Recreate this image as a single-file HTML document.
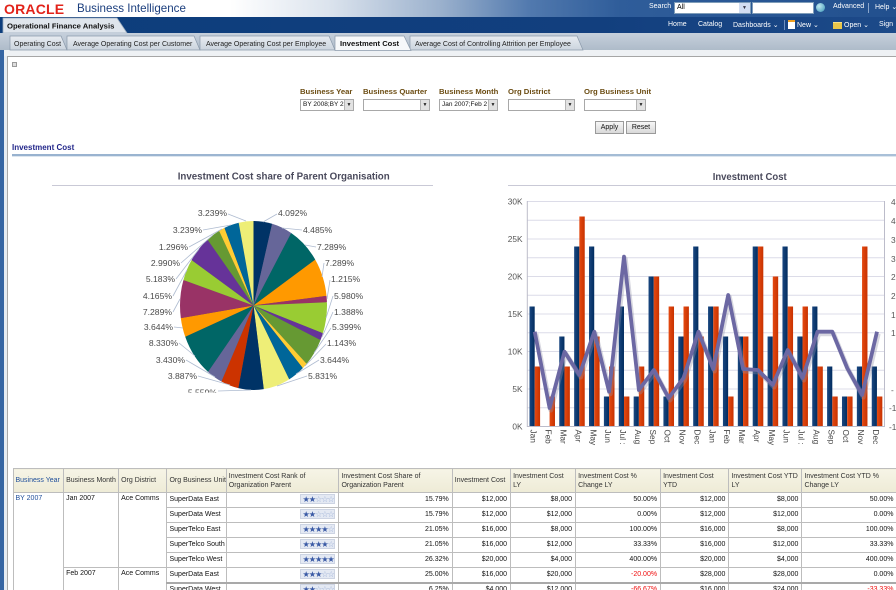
<!DOCTYPE html>
<html><head><meta charset="utf-8">
<style>
*{margin:0;padding:0;box-sizing:border-box}
html,body{width:896px;height:590px;overflow:hidden;background:#fff;font-family:"Liberation Sans",Arial,sans-serif}
#root{position:relative;width:896px;height:590px;overflow:hidden;background:#fff}
.a{position:absolute}
.w{color:#fff;font-size:7px;white-space:nowrap}
.fl{position:absolute;top:87px;font-size:7.7px;font-weight:bold;color:#6b4c12;white-space:nowrap}
.sel{position:absolute;top:99px;height:12px;border:1px solid #a8a8a8;background:#fff;font-size:6.5px;color:#111;line-height:10px;padding-left:2px;white-space:nowrap;overflow:hidden}
.sel i{position:absolute;right:0;top:0;width:9px;height:10px;background:#e2e2e2;border-left:1px solid #b5b5b5;font-style:normal;font-size:5px;text-align:center;line-height:10px;color:#222}
.btn{position:absolute;top:121px;height:13px;border:1px solid #9a9a9a;background:linear-gradient(#f6f6f6,#d9d9d9);font-size:7px;text-align:center;line-height:11px;color:#111}
table{position:absolute;left:12.5px;top:468px;border-collapse:collapse;table-layout:fixed;width:884px}
td,th{border:1px solid #bdbdbd;font-size:7px;color:#111;padding:0 2px;white-space:nowrap;overflow:hidden;font-weight:normal}
th{background:linear-gradient(#f6f4e6,#eeebd6);text-align:left;vertical-align:middle;line-height:9px;color:#333;height:24px}
td{height:15px;line-height:12px}
td.r{text-align:right;padding-right:3px}
td.t{vertical-align:top}
.neg{color:#f01010}
.st{display:inline-block;width:35px;height:10px;background:#e4e9f3;border:1px solid #cdd4e3;font-family:"DejaVu Sans",sans-serif;font-size:8.2px;line-height:8px;color:#3a5aa5;letter-spacing:-1.1px;text-align:left;padding-left:1px;vertical-align:middle;overflow:hidden}
.st b{color:#9db0d6;font-weight:normal}
</style></head><body><div id="root">

<!-- top header row -->
<div class="a" style="left:0;top:0;width:896px;height:17px;background:linear-gradient(to right,#fff 0,#fff 230px,#dbe3ed 330px,#9bb1cd 440px,#5179ae 530px,#2f5d9a 620px,#22508e 896px)"></div>
<div class="a" style="left:4px;top:1px;font-size:14px;font-weight:bold;color:#e2231a;letter-spacing:0.2px;line-height:16px">ORACLE</div>
<div class="a" style="left:77px;top:1px;font-size:11.6px;color:#1c3f7e;line-height:16px;white-space:nowrap">Business Intelligence</div>
<div class="a w" style="left:649px;top:3px">Search</div>
<div class="a" style="left:674px;top:2px;width:77px;height:12px;background:#fff;border:1px solid #7f9db9;font-size:7px;line-height:10px;padding-left:2px;color:#000">All<span style="position:absolute;right:0;top:0;width:11px;height:10px;background:#d3def2;font-size:5px;text-align:center;line-height:10px;color:#334">▼</span></div>
<div class="a" style="left:752px;top:2px;width:62px;height:12px;background:#fff;border:1px solid #7f9db9"></div>
<div class="a" style="left:816px;top:3px;width:9px;height:9px;border-radius:50%;background:radial-gradient(circle at 35% 35%,#bfe8f0,#3a96b8)"></div>
<div class="a w" style="left:833px;top:3px">Advanced</div>
<div class="a" style="left:868px;top:3px;width:1px;height:10px;background:#8aa6cc"></div>
<div class="a w" style="left:875px;top:3px">Help ⌄</div>

<!-- second row -->
<div class="a" style="left:0;top:17px;width:896px;height:16px;background:linear-gradient(to right,#0c3d7c,#123f7e 600px,#1d4a89)"></div>
<svg class="a" style="left:0;top:17px" width="140" height="16"><polygon points="3,16 3,1 117,1 127,16" fill="#dfe5ec" stroke="#9aabbd" stroke-width="0.8"/><text x="7" y="11.5" font-size="7.7" font-weight="bold" fill="#111">Operational Finance Analysis</text></svg>
<div class="a w" style="left:668px;top:21px">Home</div>
<div class="a w" style="left:698px;top:21px">Catalog</div>
<div class="a w" style="left:733px;top:21px">Dashboards ⌄</div>
<div class="a" style="left:784px;top:20px;width:1px;height:10px;background:#6f8fbf"></div>
<div class="a" style="left:788px;top:20px;width:7px;height:9px;background:#fff;border-top:2px solid #f0a020"></div>
<div class="a w" style="left:797px;top:21px">New ⌄</div>
<div class="a" style="left:833px;top:22px;width:9px;height:7px;background:#e9c64a;border-top:1px solid #f6e08a"></div>
<div class="a w" style="left:844px;top:21px">Open ⌄</div>
<div class="a w" style="left:879px;top:21px">Sign</div>

<!-- tab row -->
<svg class="a" style="left:0;top:33px" width="896" height="24">
<defs><linearGradient id="tb" x1="0" y1="0" x2="0" y2="1"><stop offset="0" stop-color="#c6d0dc"/><stop offset="1" stop-color="#aebbc9"/></linearGradient>
<linearGradient id="ti" x1="0" y1="0" x2="0" y2="1"><stop offset="0" stop-color="#e8ecf1"/><stop offset="1" stop-color="#cbd4de"/></linearGradient></defs>
<rect x="0" y="0" width="896" height="17" fill="url(#tb)"/>
<rect x="0" y="17" width="896" height="6" fill="#eef1f4"/>
<rect x="0" y="23" width="896" height="1" fill="#a6a6a6"/>
<polygon points="10,17 10,3 61,3 67,17" fill="url(#ti)" stroke="#8a99aa" stroke-width="0.7"/>
<polygon points="67,17 67,3 194,3 200,17" fill="url(#ti)" stroke="#8a99aa" stroke-width="0.7"/>
<polygon points="200,17 200,3 329,3 335,17" fill="url(#ti)" stroke="#8a99aa" stroke-width="0.7"/>
<polygon points="410,17 410,3 577,3 583,17" fill="url(#ti)" stroke="#8a99aa" stroke-width="0.7"/>
<polygon points="335,17.5 335,3 404,3 411,17.5" fill="#f6f8fa" stroke="#8a99aa" stroke-width="0.7"/>
<text x="14" y="13" font-size="7" fill="#222">Operating Cost</text>
<text x="73" y="13" font-size="7" fill="#222">Average Operating Cost per Customer</text>
<text x="206" y="13" font-size="7" fill="#222">Average Operating Cost per Employee</text>
<text x="340" y="13" font-size="7.6" font-weight="bold" fill="#111">Investment Cost</text>
<text x="415" y="13" font-size="7" fill="#222">Average Cost of Controlling Attrition per Employee</text>
</svg>

<!-- left strip / content border -->
<div class="a" style="left:0;top:50px;width:4px;height:540px;background:#3565a3"></div>
<div class="a" style="left:4px;top:56px;width:3px;height:534px;background:#e6ecf2"></div>
<div class="a" style="left:7px;top:57px;width:1px;height:533px;background:#a8a8a8"></div>

<div class="a" style="left:12px;top:62px;width:5px;height:5px;border:1px solid #999;background:#ddd"></div>

<!-- filters -->
<div class="fl" style="left:300px">Business Year</div>
<div class="fl" style="left:363px">Business Quarter</div>
<div class="fl" style="left:439px">Business Month</div>
<div class="fl" style="left:508px">Org District</div>
<div class="fl" style="left:584px">Org Business Unit</div>
<div class="sel" style="left:300px;width:54px">BY 2008;BY 2<i>▼</i></div>
<div class="sel" style="left:363px;width:67px"><i>▼</i></div>
<div class="sel" style="left:439px;width:59px">Jan 2007;Feb 2<i>▼</i></div>
<div class="sel" style="left:508px;width:67px"><i>▼</i></div>
<div class="sel" style="left:584px;width:62px"><i>▼</i></div>
<div class="btn" style="left:595px;width:29px">Apply</div>
<div class="btn" style="left:626px;width:30px">Reset</div>

<div class="a" style="left:12px;top:143px;font-size:8px;font-weight:bold;color:#22268a;white-space:nowrap">Investment Cost</div>
<div class="a" style="left:12px;top:154px;width:884px;height:2px;background:linear-gradient(to right,#98b2cf,#a9c0d8)"></div>
<div class="a" style="left:12px;top:156px;width:884px;height:1px;background:#dde6ef"></div>

<!-- charts -->
<svg class="a" style="left:0;top:0" width="896" height="468">
<defs>
<clipPath id="pc"><rect x="0" y="160" width="470" height="232.5"/></clipPath>
<clipPath id="bc"><rect x="480" y="160" width="416" height="287"/></clipPath>
<linearGradient id="nv" x1="0" y1="0" x2="1" y2="0"><stop offset="0" stop-color="#1a4780"/><stop offset="1" stop-color="#012c5f"/></linearGradient>
<linearGradient id="rd" x1="0" y1="0" x2="1" y2="0"><stop offset="0" stop-color="#e44a12"/><stop offset="1" stop-color="#c83200"/></linearGradient>
</defs>

<text x="177.7" y="179.5" font-size="10.5" font-weight="bold" fill="#4a4a5c" textLength="212" lengthAdjust="spacingAndGlyphs">Investment Cost share of Parent Organisation</text>
<line x1="52" y1="185.5" x2="433" y2="185.5" stroke="#c9c9d6" stroke-width="1"/>

<g clip-path="url(#pc)">
<g transform="translate(253.5,305.5) scale(0.735,0.845) rotate(-90)">
<circle r="99" fill="#556"/>
<g fill="none" stroke-width="100">
<circle r="50" pathLength="100" stroke="#003366" stroke-dasharray="4.092 100" stroke-dashoffset="0"/>
<circle r="50" pathLength="100" stroke="#666699" stroke-dasharray="4.485 100" stroke-dashoffset="-4.092"/>
<circle r="50" pathLength="100" stroke="#006666" stroke-dasharray="7.289 100" stroke-dashoffset="-8.577"/>
<circle r="50" pathLength="100" stroke="#ff9900" stroke-dasharray="7.289 100" stroke-dashoffset="-15.866"/>
<circle r="50" pathLength="100" stroke="#993366" stroke-dasharray="1.215 100" stroke-dashoffset="-23.155"/>
<circle r="50" pathLength="100" stroke="#99cc33" stroke-dasharray="5.980 100" stroke-dashoffset="-24.370"/>
<circle r="50" pathLength="100" stroke="#663399" stroke-dasharray="1.388 100" stroke-dashoffset="-30.350"/>
<circle r="50" pathLength="100" stroke="#669933" stroke-dasharray="5.399 100" stroke-dashoffset="-31.738"/>
<circle r="50" pathLength="100" stroke="#ffcc33" stroke-dasharray="1.143 100" stroke-dashoffset="-37.137"/>
<circle r="50" pathLength="100" stroke="#006699" stroke-dasharray="3.644 100" stroke-dashoffset="-38.280"/>
<circle r="50" pathLength="100" stroke="#eeee77" stroke-dasharray="5.831 100" stroke-dashoffset="-41.924"/>
<circle r="50" pathLength="100" stroke="#003366" stroke-dasharray="5.559 100" stroke-dashoffset="-47.755"/>
<circle r="50" pathLength="100" stroke="#cc3300" stroke-dasharray="3.887 100" stroke-dashoffset="-53.314"/>
<circle r="50" pathLength="100" stroke="#666699" stroke-dasharray="3.430 100" stroke-dashoffset="-57.201"/>
<circle r="50" pathLength="100" stroke="#006666" stroke-dasharray="8.330 100" stroke-dashoffset="-60.631"/>
<circle r="50" pathLength="100" stroke="#ff9900" stroke-dasharray="3.644 100" stroke-dashoffset="-68.961"/>
<circle r="50" pathLength="100" stroke="#993366" stroke-dasharray="7.289 100" stroke-dashoffset="-72.605"/>
<circle r="50" pathLength="100" stroke="#99cc33" stroke-dasharray="4.165 100" stroke-dashoffset="-79.894"/>
<circle r="50" pathLength="100" stroke="#663399" stroke-dasharray="5.183 100" stroke-dashoffset="-84.059"/>
<circle r="50" pathLength="100" stroke="#669933" stroke-dasharray="2.990 100" stroke-dashoffset="-89.242"/>
<circle r="50" pathLength="100" stroke="#ffcc33" stroke-dasharray="1.296 100" stroke-dashoffset="-92.232"/>
<circle r="50" pathLength="100" stroke="#006699" stroke-dasharray="3.239 100" stroke-dashoffset="-93.528"/>
<circle r="50" pathLength="100" stroke="#eeee77" stroke-dasharray="3.240 100" stroke-dashoffset="-96.767"/>
</g></g>

<g stroke="#aebbd0" stroke-width="0.8" fill="none">
<line x1="277" y1="214" x2="263" y2="222"/>
<line x1="302" y1="230" x2="282" y2="228"/>
<line x1="316" y1="247" x2="305" y2="245"/>
<line x1="324" y1="263" x2="322" y2="277"/>
<line x1="330" y1="280" x2="327" y2="299"/>
<line x1="333" y1="296" x2="326" y2="318"/>
<line x1="333" y1="312" x2="322" y2="337"/>
<line x1="331" y1="328" x2="314" y2="353"/>
<line x1="326" y1="344" x2="305" y2="366"/>
<line x1="319" y1="360" x2="296" y2="374"/>
<line x1="307" y1="376" x2="277" y2="386"/>
<line x1="228" y1="214" x2="246" y2="221"/>
<line x1="203" y1="230" x2="231" y2="225"/>
<line x1="189" y1="247" x2="222" y2="229"/>
<line x1="181" y1="263" x2="213" y2="235"/>
<line x1="176" y1="279" x2="199" y2="249"/>
<line x1="173" y1="296" x2="187" y2="270"/>
<line x1="173" y1="312" x2="180" y2="299"/>
<line x1="174" y1="327" x2="183" y2="328"/>
<line x1="179" y1="343" x2="195" y2="356"/>
<line x1="186" y1="360" x2="215" y2="377"/>
<line x1="198" y1="376" x2="230" y2="385"/>
<line x1="218" y1="391" x2="251" y2="390"/>
</g>
<g font-size="8.6" fill="#4a4a4a">
<text x="278" y="216">4.092%</text>
<text x="303" y="233">4.485%</text>
<text x="317" y="250">7.289%</text>
<text x="325" y="266">7.289%</text>
<text x="331" y="282">1.215%</text>
<text x="334" y="299">5.980%</text>
<text x="334" y="315">1.388%</text>
<text x="332" y="330">5.399%</text>
<text x="327" y="346">1.143%</text>
<text x="320" y="363">3.644%</text>
<text x="308" y="379">5.831%</text>
</g>
<g font-size="8.6" fill="#4a4a4a" text-anchor="end">
<text x="227" y="216">3.239%</text>
<text x="202" y="233">3.239%</text>
<text x="188" y="250">1.296%</text>
<text x="180" y="266">2.990%</text>
<text x="175" y="282">5.183%</text>
<text x="172" y="299">4.165%</text>
<text x="172" y="315">7.289%</text>
<text x="173" y="330">3.644%</text>
<text x="178" y="346">8.330%</text>
<text x="185" y="363">3.430%</text>
<text x="197" y="379">3.887%</text>
<text x="217" y="395.5">5.559%</text>
</g>
</g>

<!-- bar chart -->
<text x="712.7" y="180" font-size="10.5" font-weight="bold" fill="#4a4a5c" textLength="74" lengthAdjust="spacingAndGlyphs">Investment Cost</text>
<line x1="508" y1="185.5" x2="896" y2="185.5" stroke="#c9c9d6" stroke-width="1"/>

<g clip-path="url(#bc)">
<g stroke="#dcdce8" stroke-width="1">
<line x1="527.3" y1="201.5" x2="884.5" y2="201.5"/>
<line x1="527.3" y1="220.25" x2="884.5" y2="220.25"/>
<line x1="527.3" y1="239" x2="884.5" y2="239"/>
<line x1="527.3" y1="257.75" x2="884.5" y2="257.75"/>
<line x1="527.3" y1="276.5" x2="884.5" y2="276.5"/>
<line x1="527.3" y1="295.25" x2="884.5" y2="295.25"/>
<line x1="527.3" y1="314" x2="884.5" y2="314"/>
<line x1="527.3" y1="332.75" x2="884.5" y2="332.75"/>
<line x1="527.3" y1="351.5" x2="884.5" y2="351.5"/>
<line x1="527.3" y1="370.25" x2="884.5" y2="370.25"/>
<line x1="527.3" y1="389" x2="884.5" y2="389"/>
<line x1="527.3" y1="407.75" x2="884.5" y2="407.75"/>
</g>
<g font-size="8.3" fill="#555" text-anchor="end">
<text x="522.5" y="204.5">30K</text>
<text x="522.5" y="242">25K</text>
<text x="522.5" y="279.5">20K</text>
<text x="522.5" y="317">15K</text>
<text x="522.5" y="354.5">10K</text>
<text x="522.5" y="392">5K</text>
<text x="522.5" y="429.5">0K</text>
</g>
<g font-size="8.3" fill="#555">
<text x="891" y="205">4</text>
<text x="891" y="224">4</text>
<text x="891" y="243">3</text>
<text x="891" y="262">3</text>
<text x="891" y="280">2</text>
<text x="891" y="299">2</text>
<text x="891" y="318">1</text>
<text x="891" y="336">1</text>
<text x="891" y="393">-</text>
<text x="889" y="411">-1</text>
<text x="889" y="430">-1</text>
</g>

<g fill="url(#nv)">
<rect x="529.5" y="306.5" width="5.2" height="120"/>
<rect x="559.26" y="336.5" width="5.2" height="90"/>
<rect x="574.14" y="246.5" width="5.2" height="180"/>
<rect x="589.02" y="246.5" width="5.2" height="180"/>
<rect x="603.9" y="396.5" width="5.2" height="30"/>
<rect x="618.78" y="306.5" width="5.2" height="120"/>
<rect x="633.66" y="396.5" width="5.2" height="30"/>
<rect x="648.54" y="276.5" width="5.2" height="150"/>
<rect x="663.42" y="396.5" width="5.2" height="30"/>
<rect x="678.3" y="336.5" width="5.2" height="90"/>
<rect x="693.18" y="246.5" width="5.2" height="180"/>
<rect x="708.06" y="306.5" width="5.2" height="120"/>
<rect x="722.94" y="336.5" width="5.2" height="90"/>
<rect x="737.82" y="336.5" width="5.2" height="90"/>
<rect x="752.7" y="246.5" width="5.2" height="180"/>
<rect x="767.58" y="336.5" width="5.2" height="90"/>
<rect x="782.46" y="246.5" width="5.2" height="180"/>
<rect x="797.34" y="336.5" width="5.2" height="90"/>
<rect x="812.22" y="306.5" width="5.2" height="120"/>
<rect x="827.1" y="366.5" width="5.2" height="60"/>
<rect x="841.98" y="396.5" width="5.2" height="30"/>
<rect x="856.86" y="366.5" width="5.2" height="60"/>
<rect x="871.74" y="366.5" width="5.2" height="60"/>
</g>
<g fill="url(#rd)">
<rect x="534.7" y="366.5" width="5.4" height="60"/>
<rect x="549.58" y="396.5" width="5.4" height="30"/>
<rect x="564.46" y="366.5" width="5.4" height="60"/>
<rect x="579.34" y="216.5" width="5.4" height="210"/>
<rect x="594.22" y="336.5" width="5.4" height="90"/>
<rect x="609.1" y="366.5" width="5.4" height="60"/>
<rect x="623.98" y="396.5" width="5.4" height="30"/>
<rect x="638.86" y="366.5" width="5.4" height="60"/>
<rect x="653.74" y="276.5" width="5.4" height="150"/>
<rect x="668.62" y="306.5" width="5.4" height="120"/>
<rect x="683.5" y="306.5" width="5.4" height="120"/>
<rect x="698.38" y="336.5" width="5.4" height="90"/>
<rect x="713.26" y="306.5" width="5.4" height="120"/>
<rect x="728.14" y="396.5" width="5.4" height="30"/>
<rect x="743.02" y="336.5" width="5.4" height="90"/>
<rect x="757.9" y="246.5" width="5.4" height="180"/>
<rect x="772.78" y="276.5" width="5.4" height="150"/>
<rect x="787.66" y="306.5" width="5.4" height="120"/>
<rect x="802.54" y="306.5" width="5.4" height="120"/>
<rect x="817.42" y="366.5" width="5.4" height="60"/>
<rect x="832.3" y="396.5" width="5.4" height="30"/>
<rect x="847.18" y="396.5" width="5.4" height="30"/>
<rect x="862.06" y="246.5" width="5.4" height="180"/>
<rect x="876.94" y="396.5" width="5.4" height="30"/>
</g>

<polyline fill="none" stroke="#8f8fa6" stroke-opacity="0.35" stroke-width="5" stroke-linejoin="round" transform="translate(1.2,2)" points="534.7,331.7 549.6,408 564.5,351.7 579.4,375 594.3,331.7 609.1,391.7 624,256.7 638.9,390 653.8,370 668.7,398 683.5,378 698.4,331.7 713.3,369 728.2,295 743.1,369 757.9,370 772.8,385 787.7,350 802.6,378 817.5,331.7 832.3,331.7 847.2,368 862.1,395 877,331.7"/>
<polyline fill="none" stroke="#6c68a3" stroke-width="3.8" stroke-linejoin="round" points="534.7,331.7 549.6,408 564.5,351.7 579.4,375 594.3,331.7 609.1,391.7 624,256.7 638.9,390 653.8,370 668.7,398 683.5,378 698.4,331.7 713.3,369 728.2,295 743.1,369 757.9,370 772.8,385 787.7,350 802.6,378 817.5,331.7 832.3,331.7 847.2,368 862.1,395 877,331.7"/>

<g stroke="#bcbcca" stroke-width="1">
<line x1="527.3" y1="201" x2="527.3" y2="427"/>
<line x1="884.5" y1="201" x2="884.5" y2="427"/>
<line x1="527.3" y1="426.5" x2="884.5" y2="426.5"/>
</g>

<g font-size="8.3" fill="#444">
<text transform="translate(530.7,429.5) rotate(90)">Jan</text>
<text transform="translate(545.6,429.5) rotate(90)">Feb</text>
<text transform="translate(560.5,429.5) rotate(90)">Mar</text>
<text transform="translate(575.4,429.5) rotate(90)">Apr</text>
<text transform="translate(590.3,429.5) rotate(90)">May</text>
<text transform="translate(605.1,429.5) rotate(90)">Jun</text>
<text transform="translate(620,429.5) rotate(90)">Jul :</text>
<text transform="translate(634.9,429.5) rotate(90)">Aug</text>
<text transform="translate(649.8,429.5) rotate(90)">Sep</text>
<text transform="translate(664.7,429.5) rotate(90)">Oct</text>
<text transform="translate(679.5,429.5) rotate(90)">Nov</text>
<text transform="translate(694.4,429.5) rotate(90)">Dec</text>
<text transform="translate(709.3,429.5) rotate(90)">Jan</text>
<text transform="translate(724.2,429.5) rotate(90)">Feb</text>
<text transform="translate(739.1,429.5) rotate(90)">Mar</text>
<text transform="translate(753.9,429.5) rotate(90)">Apr</text>
<text transform="translate(768.8,429.5) rotate(90)">May</text>
<text transform="translate(783.7,429.5) rotate(90)">Jun</text>
<text transform="translate(798.6,429.5) rotate(90)">Jul :</text>
<text transform="translate(813.5,429.5) rotate(90)">Aug</text>
<text transform="translate(828.3,429.5) rotate(90)">Sep</text>
<text transform="translate(843.2,429.5) rotate(90)">Oct</text>
<text transform="translate(858.1,429.5) rotate(90)">Nov</text>
<text transform="translate(873,429.5) rotate(90)">Dec</text>
</g>
</g>
</svg>

<!-- table -->
<table>
<colgroup>
<col style="width:50.6px"><col style="width:55px"><col style="width:48.4px"><col style="width:59.3px"><col style="width:112.7px"><col style="width:113.3px"><col style="width:58.3px"><col style="width:65px"><col style="width:85px"><col style="width:68.4px"><col style="width:73px"><col style="width:95px">
</colgroup>
<tr>
<th style="color:#1f4e9a">Business Year</th><th>Business Month</th><th>Org District</th><th>Org Business Unit</th>
<th>Investment Cost Rank of<br>Organization Parent</th><th>Investment Cost Share of<br>Organization Parent</th>
<th>Investment Cost</th><th>Investment Cost<br>LY</th><th>Investment Cost %<br>Change LY</th><th>Investment Cost<br>YTD</th><th>Investment Cost YTD<br>LY</th><th>Investment Cost YTD %<br>Change LY</th>
</tr>
<tr>
<td class="t" rowspan="7" style="color:#1f4e9a">BY 2007</td>
<td class="t" rowspan="5">Jan 2007</td>
<td class="t" rowspan="5">Ace Comms</td>
<td>SuperData East</td><td class="r"><span class="st">★★<b>☆☆☆</b></span></td><td class="r">15.79%</td><td class="r">$12,000</td><td class="r">$8,000</td><td class="r">50.00%</td><td class="r">$12,000</td><td class="r">$8,000</td><td class="r">50.00%</td>
</tr>
<tr><td>SuperData West</td><td class="r"><span class="st">★★<b>☆☆☆</b></span></td><td class="r">15.79%</td><td class="r">$12,000</td><td class="r">$12,000</td><td class="r">0.00%</td><td class="r">$12,000</td><td class="r">$12,000</td><td class="r">0.00%</td></tr>
<tr><td>SuperTelco East</td><td class="r"><span class="st">★★★★<b>☆</b></span></td><td class="r">21.05%</td><td class="r">$16,000</td><td class="r">$8,000</td><td class="r">100.00%</td><td class="r">$16,000</td><td class="r">$8,000</td><td class="r">100.00%</td></tr>
<tr><td>SuperTelco South</td><td class="r"><span class="st">★★★★<b>☆</b></span></td><td class="r">21.05%</td><td class="r">$16,000</td><td class="r">$12,000</td><td class="r">33.33%</td><td class="r">$16,000</td><td class="r">$12,000</td><td class="r">33.33%</td></tr>
<tr><td>SuperTelco West</td><td class="r"><span class="st">★★★★★</span></td><td class="r">26.32%</td><td class="r">$20,000</td><td class="r">$4,000</td><td class="r">400.00%</td><td class="r">$20,000</td><td class="r">$4,000</td><td class="r">400.00%</td></tr>
<tr>
<td class="t" rowspan="2">Feb 2007</td>
<td class="t" rowspan="2">Ace Comms</td>
<td>SuperData East</td><td class="r"><span class="st">★★★<b>☆☆</b></span></td><td class="r">25.00%</td><td class="r">$16,000</td><td class="r">$20,000</td><td class="r neg">-20.00%</td><td class="r">$28,000</td><td class="r">$28,000</td><td class="r">0.00%</td>
</tr>
<tr style="border-top:2px solid #a9a9a9"><td>SuperData West</td><td class="r"><span class="st">★★<b>☆☆☆</b></span></td><td class="r">6.25%</td><td class="r">$4,000</td><td class="r">$12,000</td><td class="r neg">-66.67%</td><td class="r">$16,000</td><td class="r">$24,000</td><td class="r neg">-33.33%</td></tr>
</table>

</div></body></html>
